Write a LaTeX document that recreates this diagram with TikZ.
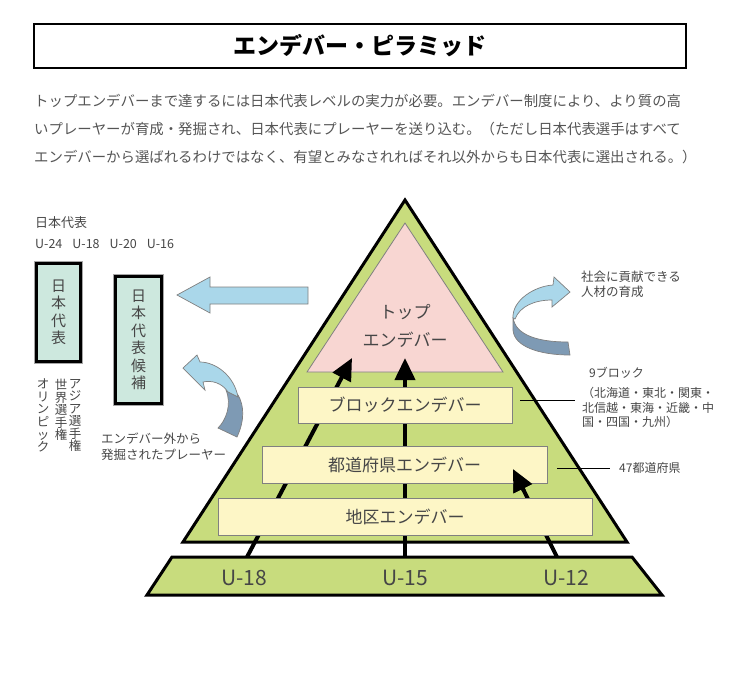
\documentclass[tikz,border=0pt]{standalone}
\usepackage{fontspec}
\setmainfont{Noto Sans CJK JP}
\usetikzlibrary{arrows.meta,positioning,calc}
\definecolor{pyrgreen}{RGB}{200,220,125}
\definecolor{toppink}{RGB}{248,214,210}
\definecolor{lvlyellow}{RGB}{253,246,198}
\definecolor{teambox}{RGB}{205,232,222}
\definecolor{skyblue}{RGB}{170,215,234}
\definecolor{slate}{RGB}{126,154,180}
\definecolor{txtgray}{RGB}{70,70,70}
\definecolor{introgray}{RGB}{85,85,85}

\begin{document}
\begin{tikzpicture}[x=1pt,y=-1pt,
    intro/.style={anchor=west,inner sep=0pt,text=introgray,font=\fontsize{14.4}{14.4}\selectfont},
    lvl/.style={draw=gray,line width=0.8pt,fill=lvlyellow,inner sep=0pt,
      minimum height=36pt,text=txtgray,font=\fontsize{17}{17}\selectfont},
    team/.style={draw=black,line width=3pt,fill=teambox,inner sep=0pt,align=center,
      preaction={draw=gray!70,line width=5.5pt},text=txtgray,
      font=\fontsize{15}{17.5}\selectfont},
    note/.style={inner sep=0pt,align=left,text=txtgray,font=\fontsize{12.5}{15}\selectfont},
    tate/.style={inner sep=0pt,anchor=north,align=center,text=txtgray,
      font=\fontsize{12.5}{12.5}\selectfont},
    thickline/.style={line width=3pt,line join=miter},
    uparr/.style={-{Triangle[length=22pt,width=20pt]},line width=4pt},
    ribbon/.style={draw=gray,line width=0.7pt}
  ]
    \useasboundingbox (0,0) rectangle (735,673);

    \node[draw,line width=1.2pt,minimum width=652pt,minimum height=44pt,
      font=\fontsize{23}{23}\selectfont\bfseries] (title) at (360,46)
      {エンデバー・ピラミッド};
    \node[intro] (intro1) at (34,101)
      {トップエンデバーまで達するには日本代表レベルの実力が必要。エンデバー制度により、より質の高};
    \node[intro] (intro2) at (34,129)
      {いプレーヤーが育成・発掘され、日本代表にプレーヤーを送り込む。（ただし日本代表選手はすべて};
    \node[intro] (intro3) at (34,157)
      {エンデバーから選ばれるわけではなく、有望とみなされればそれ以外からも日本代表に選出される。）};

    \coordinate (apex) at (405,200);
    \coordinate (baseL) at (183,542);
    \coordinate (baseR) at (627,542);
    \draw[thickline,fill=pyrgreen] (apex) -- (baseR) -- (baseL) -- cycle;
    \draw[draw=gray,line width=0.8pt,fill=toppink] (405,223) -- (503,372) -- (307,372) -- cycle;
    \node[align=center,text=txtgray,font=\fontsize{17}{28}\selectfont] (topname) at (405,326)
      {トップ\\エンデバー};

    \draw[thickline,fill=pyrgreen] (172,557) -- (632,557) -- (662,595) -- (147,595) -- cycle;
    \node[text=txtgray,font=\fontsize{21}{21}\selectfont] (u18) at (244,578) {U-18};
    \node[text=txtgray,font=\fontsize{21}{21}\selectfont] (u15) at (405,578) {U-15};
    \node[text=txtgray,font=\fontsize{21}{21}\selectfont] (u12) at (566,578) {U-12};

    \coordinate (u18top) at (247,557);
    \coordinate (u15top) at (405,557);
    \coordinate (u12top) at (557,557);
    \coordinate (tipL) at (352,358);
    \coordinate (tipM) at (405,358);
    \coordinate (tipR) at (513,469);
    \draw[uparr] (u18top) -- (tipL);
    \draw[uparr] (u15top) -- (tipM);
    \draw[uparr] (u12top) -- (tipR);

    \node[lvl,minimum width=214pt] (blk) at (405,405) {ブロックエンデバー};
    \node[lvl,minimum width=285pt,minimum height=37pt] (pref) at (404.5,464.5) {都道府県エンデバー};
    \node[lvl,minimum width=374pt,minimum height=37pt] (dist) at (405,516.5) {地区エンデバー};
    \draw[uparr] ($(u12top)!0.75!(tipR)$) -- (tipR);

    \coordinate (blkend) at (575,400);
    \coordinate (prefend) at (610,468);
    \draw[line width=0.8pt] ([xshift=8pt]blk.east |- blkend) -- (blkend);
    \draw[line width=0.8pt] ([xshift=10pt]pref.east |- prefend) -- (prefend);
    \node[note,anchor=west,font=\fontsize{12}{14.5}\selectfont] (blkcount) at (589,373) {9ブロック};
    \node[note,anchor=west,font=\fontsize{12}{14.5}\selectfont] (regions) at (582,407.5)
      {（北海道・東北・関東・\\北信越・東海・近畿・中\\国・四国・九州）};
    \node[note,anchor=west,font=\fontsize{12}{14.5}\selectfont] (prefcount) at (619,468) {47都道府県};
    \node[note,anchor=west] (society) at (581,284.5) {社会に貢献できる\\人材の育成};

    \draw[ribbon,fill=slate] (513,317) .. controls (515,336) and (540,342) .. (568,342)
      -- (570,355) .. controls (538,355) and (514,346) .. (513,330) -- cycle;
    \draw[ribbon,fill=skyblue] (513,318) .. controls (512,300) and (535,286) .. (553,285)
      -- (554,277) -- (570,292) -- (552,307) -- (552,300)
      .. controls (535,300) and (520,306) .. (515,319) -- cycle;

    \draw[ribbon,fill=skyblue] (308,287) -- (210,287) -- (210,277) -- (177,295)
      -- (210,313) -- (210,304) -- (308,304) -- cycle;

    \draw[ribbon,fill=slate] (226,390) .. controls (232,405) and (226,420) .. (218,428)
      -- (237,437) .. controls (245,420) and (244,405) .. (238,395) -- cycle;
    \draw[ribbon,fill=skyblue] (238,397) .. controls (234,375) and (215,362) .. (200,362)
      -- (197,355) -- (183,368) -- (205,390) -- (203,382)
      .. controls (212,380) and (222,383) .. (228,392) -- cycle;

    \node[note,anchor=west,font=\fontsize{13}{13}\selectfont] (jdlabel) at (35,223) {日本代表};
    \node[note,anchor=west,font=\fontsize{12.5}{12.5}\selectfont] (ages) at (35,244)
      {U-24\hspace{10pt}U-18\hspace{10pt}U-20\hspace{10pt}U-16};
    \node[team,minimum width=44pt,minimum height=98pt] (jd) at (58.5,312.5) {日\\本\\代\\表};
    \node[team,minimum width=46pt,minimum height=127pt] (jdc) at (138.5,340)
      {日\\本\\代\\表\\候\\補};
    \node[tate] (asia) at (75,379) {ア\\ジ\\ア\\選\\手\\権};
    \node[tate] (world) at (61,379) {世\\界\\選\\手\\権};
    \node[tate] (olym) at (43,379) {オ\\リ\\ン\\ピ\\ッ\\ク};
    \node[note,anchor=north west,font=\fontsize{12.5}{16}\selectfont] (outside) at (101,433)
      {エンデバー外から\\発掘されたプレーヤー};
  \end{tikzpicture}
\end{document}
